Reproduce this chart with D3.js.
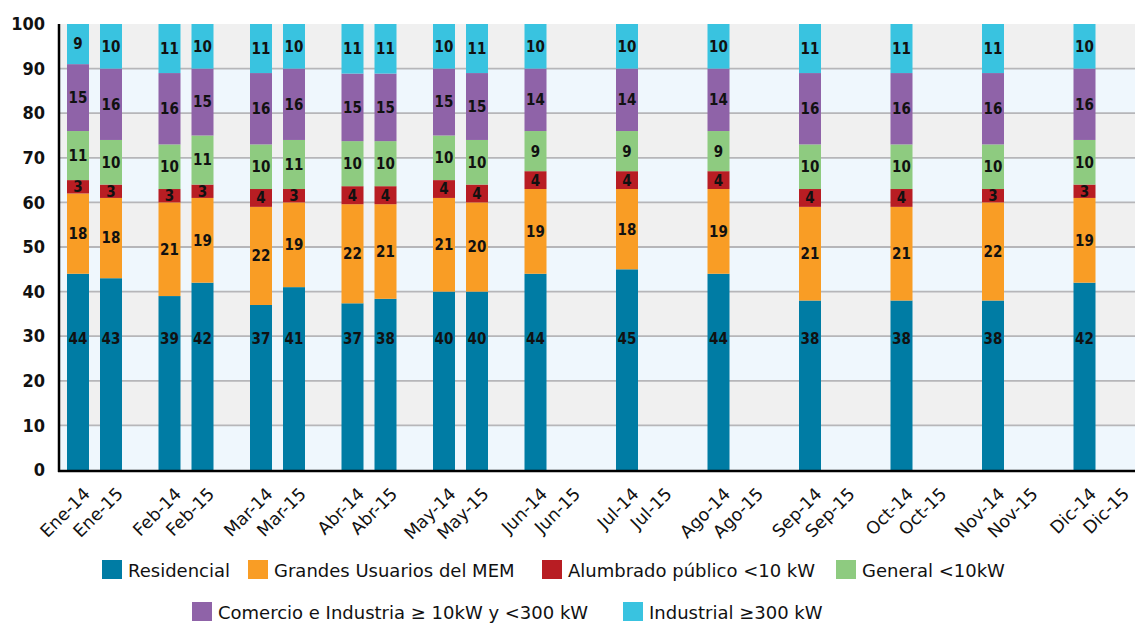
<!DOCTYPE html>
<html>
<head>
<meta charset="utf-8">
<script src="https://cdn.jsdelivr.net/npm/d3@7"></script>
<style>
  body { margin: 0; background: #fff; }
  svg { display: block; }
</style>
</head>
<body>
<svg width="1135" height="623"></svg>
<script>
// months and years of the grouped bars
const months = ["Ene", "Feb", "Mar", "Abr", "May", "Jun", "Jul", "Ago", "Sep", "Oct", "Nov", "Dic"];
const years = ["14", "15"];
const seriesNames = ["Residencial", "Grandes Usuarios del MEM", "Alumbrado público <10 kW",
  "General <10kW", "Comercio e Industria ≥ 10kW y <300 kW", "Industrial ≥300 kW"];
const colors = ["#007ca4", "#f99d25", "#b81d23", "#8ecb80", "#8f63a8", "#39c3e0"];

// values per bar: Ene-14, Ene-15, Feb-14, Feb-15, ... (no 2015 bars from Jun on)
const residencial = [44, 43, 39, 42, 37, 41, 37, 38, 40, 40, 44, null, 45, null, 44, null, 38, null, 38, null, 38, null, 42, null];
const grandes     = [18, 18, 21, 19, 22, 19, 22, 21, 21, 20, 19, null, 18, null, 19, null, 21, null, 21, null, 22, null, 19, null];
const alumbrado   = [3, 3, 3, 3, 4, 3, 4, 4, 4, 4, 4, null, 4, null, 4, null, 4, null, 4, null, 3, null, 3, null];
const general     = [11, 10, 10, 11, 10, 11, 10, 10, 10, 10, 9, null, 9, null, 9, null, 10, null, 10, null, 10, null, 10, null];
const comercio    = [15, 16, 16, 15, 16, 16, 15, 15, 15, 15, 14, null, 14, null, 14, null, 16, null, 16, null, 16, null, 16, null];
const industrial  = [9, 10, 11, 10, 11, 10, 11, 11, 10, 11, 10, null, 10, null, 10, null, 11, null, 11, null, 11, null, 10, null];

const yTicks = d3.range(0, 101, 10);

const svg = d3.select("svg");
const plotL = 59, plotR = 1135, plotT = 24, plotB = 470;

// build rows
const allSeries = [residencial, grandes, alumbrado, general, comercio, industrial];
const bars = [];
months.forEach((m, i) => years.forEach((yr, j) => {
  const k = i * 2 + j;
  const row = { month: m, year: yr, label: m + "-" + yr, has: residencial[k] != null };
  seriesNames.forEach((s, si) => row[s] = allSeries[si][k] || 0);
  bars.push(row);
}));
const filled = bars.filter(d => d.has);

const x0 = d3.scaleBand().domain(months).range([48.75, 1146.75]);
const x1 = d3.scaleBand().domain(years).range([0, x0.bandwidth()])
  .paddingInner(1 / 3).paddingOuter(0.553);
const y = d3.scaleLinear().domain([0, 1]).range([plotB, plotT]);
const color = d3.scaleOrdinal().domain(seriesNames).range(colors);
const cx = d => x0(d.month) + x1(d.year) + x1.bandwidth() / 2;

// background bands
svg.append("g").selectAll("rect")
  .data(d3.range(10))
  .join("rect")
  .attr("x", plotL).attr("width", plotR - plotL)
  .attr("y", i => y((i + 1) / 10)).attr("height", i => y(i / 10) - y((i + 1) / 10))
  .attr("fill", i => i % 2 === 0 ? "#eff7fd" : "#f0f0f0");

// grid lines
svg.append("g").selectAll("line")
  .data(yTicks.filter(t => t > 0 && t < 100))
  .join("line")
  .attr("x1", plotL).attr("x2", plotR)
  .attr("y1", t => y(t / 100)).attr("y2", t => y(t / 100))
  .attr("stroke", "#b6b6b9").attr("stroke-width", 1.8);

// stacked bars (100%)
const stack = d3.stack().keys(seriesNames).offset(d3.stackOffsetExpand);
const layers = stack(filled);

const gLayers = svg.append("g").selectAll("g")
  .data(layers)
  .join("g")
  .attr("fill", d => color(d.key));

gLayers.selectAll("rect")
  .data(d => d)
  .join("rect")
  .attr("x", d => cx(d.data) - x1.bandwidth() / 2)
  .attr("width", x1.bandwidth())
  .attr("y", d => y(d[1]))
  .attr("height", d => y(d[0]) - y(d[1]));

// value labels
gLayers.selectAll("text")
  .data(d => d.map(p => ({ p, key: d.key })))
  .join("text")
  .attr("x", d => cx(d.p.data))
  .attr("y", d => d.key === "Residencial" ? y(0.295) : y((d.p[0] + d.p[1]) / 2))
  .attr("dy", "0.36em")
  .attr("text-anchor", "middle")
  .attr("fill", "#111")
  .style("font-family", "'DejaVu Sans Condensed', 'DejaVu Sans', sans-serif")
  .style("font-weight", "bold")
  .style("font-size", "15px")
  .text(d => d.p.data[d.key]);

// y axis
const yAxis = d3.axisLeft(y).tickValues(yTicks.map(t => t / 100))
  .tickFormat(d => Math.round(d * 100)).tickSize(0).tickPadding(14);
const gy = svg.append("g").attr("transform", `translate(${plotL},0)`).call(yAxis);
gy.select(".domain").remove();
gy.selectAll("text")
  .attr("fill", "#111")
  .style("font-family", "'DejaVu Sans Condensed', 'DejaVu Sans', sans-serif")
  .style("font-weight", "bold")
  .style("font-size", "18px");

// axis lines
svg.append("line").attr("x1", plotL).attr("x2", plotL).attr("y1", plotT).attr("y2", plotB + 2)
  .attr("stroke", "#000").attr("stroke-width", 2.5);
svg.append("line").attr("x1", plotL - 1).attr("x2", plotR).attr("y1", plotB + 1).attr("y2", plotB + 1)
  .attr("stroke", "#000").attr("stroke-width", 2.5);

// x labels (every month/year, rotated)
svg.append("g").selectAll("text")
  .data(bars)
  .join("text")
  .attr("transform", d => `translate(${cx(d) + 13},${plotB + 25}) rotate(-45)`)
  .attr("text-anchor", "end")
  .attr("fill", "#111")
  .style("font-family", "'DejaVu Sans', sans-serif")
  .style("font-size", "17.5px")
  .text(d => d.label);

// legend
const legendPos = [[102, 560], [248, 560], [542, 560], [836, 560], [192, 602], [623, 602]];
const legend = svg.append("g").selectAll("g")
  .data(seriesNames)
  .join("g")
  .attr("transform", (d, i) => `translate(${legendPos[i][0]},${legendPos[i][1]})`);
legend.append("rect").attr("width", 20).attr("height", 19).attr("fill", d => color(d));
legend.append("text")
  .attr("x", 26).attr("y", 17)
  .attr("fill", "#111")
  .style("font-family", "'DejaVu Sans', sans-serif")
  .style("font-size", "18px")
  .text(d => d);
</script>
</body>
</html>
